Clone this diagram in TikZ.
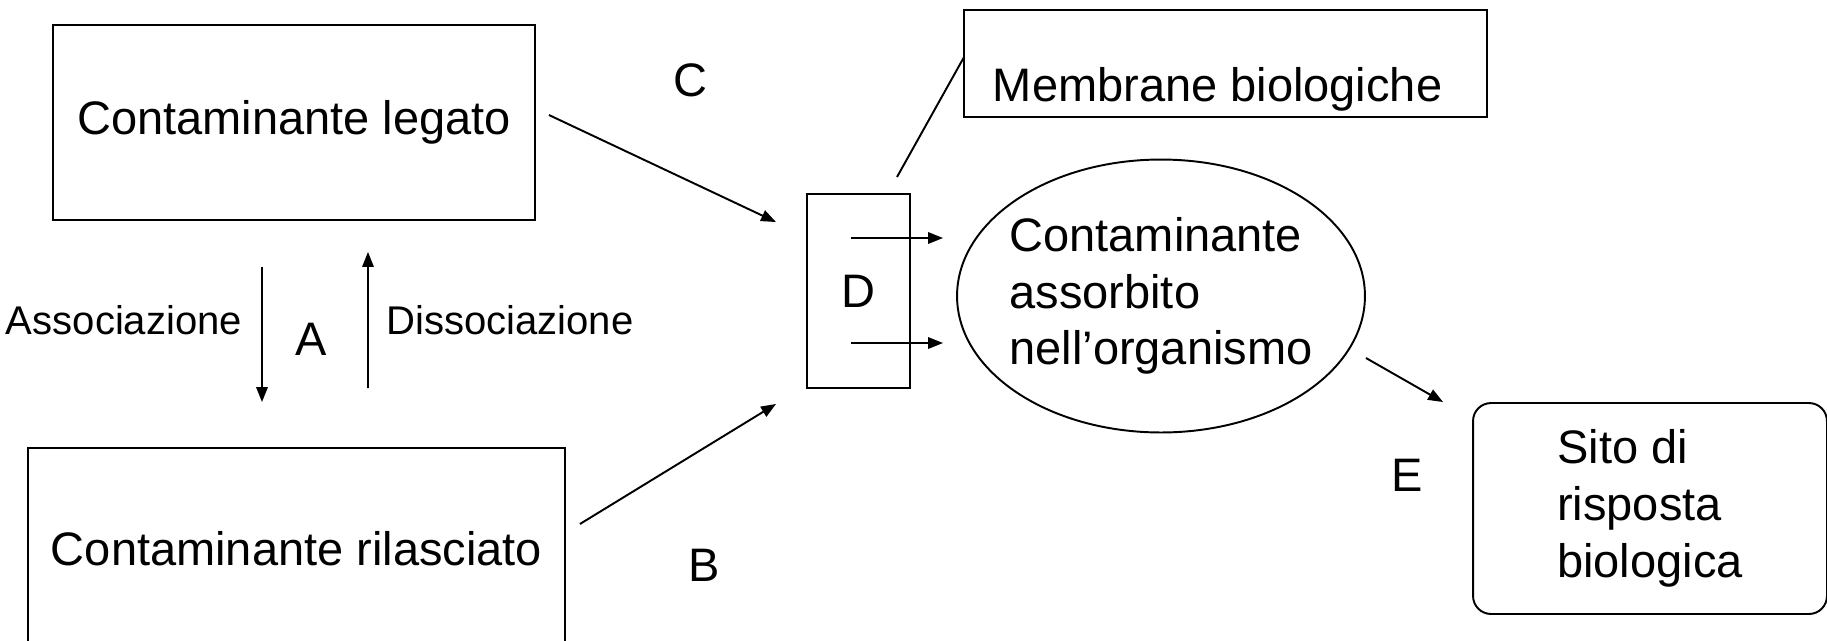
\documentclass[tikz,border=0pt]{standalone}
\usepackage{fontspec}
\setmainfont{Liberation Sans}
\usetikzlibrary{arrows.meta,shapes.geometric}

\begin{document}
\begin{tikzpicture}[x=0.02cm, y=-0.02cm, line width=1.1pt, >={Triangle[length=8.5pt,width=6.5pt]},
    big/.style={font=\fontsize{26.75}{32.3}\selectfont},
    small/.style={font=\fontsize{22.8}{27}\selectfont},
    box/.style={draw, rectangle, inner sep=0pt, outer sep=0pt, big},
    bubble/.style={draw, ellipse, inner xsep=-0.2cm, inner ysep=0pt, outer sep=0pt, align=left, big},
    roundbox/.style={draw, rectangle, rounded corners=0.36cm, inner sep=0pt, outer sep=0pt, align=left, big}]
    \useasboundingbox (0,0) rectangle (1827,640);
    % boxes
    \node[box, minimum width=9.64cm, minimum height=3.9cm] (legato) at (294,122.5) {Contaminante legato};
    \node[box, minimum width=10.74cm, minimum height=4.04cm] (rilasc) at (296.5,549) {Contaminante rilasciato};
    \node[box, minimum width=2.06cm, minimum height=3.88cm] (dbox) at (858.5,291) {D};
    \node[box, minimum width=10.46cm, minimum height=2.14cm] (membr) at (1225.5,63.5) {};
    \node[big, anchor=base west, inner sep=0pt] (membrtxt) at (992,101) {Membrane biologiche};
    \node[bubble, minimum width=8.16cm, minimum height=5.46cm] (assorb) at (1161,296) {Contaminante\\assorbito\\nell'organismo};
    \node[roundbox, minimum width=7.08cm, minimum height=4.22cm] (sito) at (1650,508.5) {Sito di\\risposta\\biologica};
    % labels
    \node[small] (assoc) at (124,320) {Associazione};
    \node[small] (dissoc) at (510,320) {Dissociazione};
    \node[big] (lblA) at (311,339) {A};
    \node[big] (lblB) at (704,565) {B};
    \node[big] (lblC) at (690,80) {C};
    \node[big] (lblE) at (1407,475) {E};
    % arrows
    \draw[->] ([shift={(-32,47)}]legato.south) -- ([shift={(-34.5,-46)}]rilasc.north);
    \draw[->] ([shift={(71.5,-60)}]rilasc.north) -- ([shift={(74,32)}]legato.south);
    \draw[->] ([shift={(14,-7.5)}]legato.east) -- ([shift={(-31,28)}]dbox.north west);
    \draw[->] ([shift={(15,-25)}]rilasc.east) -- ([shift={(-31,16)}]dbox.south west);
    \draw[->] ([shift={(44,44)}]dbox.north west) -- ([shift={(-14,-58)}]assorb.west);
    \draw[->] ([shift={(44,149)}]dbox.north west) -- ([shift={(-14,47)}]assorb.west);
    \draw ([shift={(38.5,-17)}]dbox.north) -- ([shift={(0,-6.5)}]membr.west);
    \draw[->] ([shift={(1,62)}]assorb.east) -- ([shift={(-30,-1)}]sito.north west);
\end{tikzpicture}
\end{document}
